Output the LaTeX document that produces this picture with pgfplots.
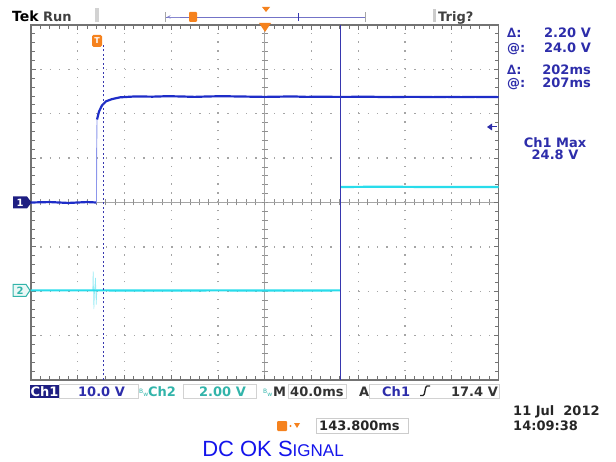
\documentclass[border=0pt]{standalone}
\usepackage{pgfplots}
\pgfplotsset{compat=1.18}
\usepackage{fontspec}
\setmainfont{DejaVu Sans}
\newfontfamily\arialf{Liberation Sans}
\definecolor{chone}{RGB}{30,45,200}
\definecolor{chonelight}{RGB}{140,150,235}
\definecolor{chtwo}{RGB}{40,220,235}
\definecolor{chtwolight}{RGB}{150,235,245}
\definecolor{navy}{RGB}{30,30,130}
\definecolor{cur}{RGB}{55,55,175}
\definecolor{txtblue}{RGB}{45,45,170}
\definecolor{teal2}{RGB}{50,180,170}
\definecolor{tekorange}{RGB}{245,130,30}
\definecolor{framegray}{RGB}{115,115,115}
\definecolor{gridgray}{RGB}{165,165,165}
\definecolor{titleblue}{RGB}{20,20,235}
\newcommand\scf{\fontsize{13}{14}\selectfont\bfseries}
\newcommand\bw{{\fontsize{6}{6}\selectfont\raisebox{2.5pt}{B}w}}

\pgfplotstableread{
x y
0 0
0.4 0.01
0.8 -0.01
1.2 0.01
1.40 0
}\chonelow
\pgfplotstableread{
x y
1.412 1.87
1.455 2.05
1.519 2.19
1.604 2.28
1.733 2.33
1.904 2.37
2.225 2.39
2.6 2.385
2.9 2.395
3.2 2.39
3.5 2.38
3.8 2.39
4.1 2.395
4.4 2.39
4.7 2.385
5.0 2.38
5.3 2.385
5.6 2.39
5.9 2.38
6.2 2.385
6.5 2.38
6.8 2.38
7.1 2.385
7.4 2.38
7.7 2.375
8.0 2.38
8.3 2.38
8.6 2.375
8.9 2.38
9.2 2.375
9.5 2.38
10 2.375
}\chonehigh
\pgfplotstableread{
x y
0 -1.98
1.3 -1.98
1.5 -1.98
2.5 -1.985
4.0 -1.98
5.5 -1.985
6.63 -1.98
}\chtwolow
\pgfplotstableread{
x y
6.63 0.35
7.5 0.355
8.5 0.35
10 0.35
}\chtwohigh

\begin{document}
\begin{tikzpicture}[x=1pt,y=1pt]
\useasboundingbox (0,0) rectangle (616,461);
% centre graticule lines with ticks
\draw[gridgray, line width=0.6pt] (31,258.5) -- (498.5,258.5);
\draw[gridgray, line width=0.6pt] (264.75,81) -- (264.75,436);
\foreach \i in {1,...,49} \draw[framegray!80, line width=0.8pt] ({31+9.35*\i},255.5) -- ({31+9.35*\i},261.5);
\foreach \j in {1,...,39} \draw[framegray!80, line width=0.8pt] (261.75,{81+8.875*\j}) -- (267.75,{81+8.875*\j});

\begin{axis}[
  at={(31pt,81pt)}, anchor=south west, scale only axis,
  width=467.5pt, height=355pt,
  xmin=0, xmax=10, ymin=-4, ymax=4,
  xtick={0,...,10}, ytick={-4,...,4},
  minor x tick num=4, minor y tick num=4,
  xticklabels={,,}, yticklabels={,,},
  tick align=inside, major tick length=5pt, minor tick length=3.5pt,
  every tick/.style={framegray, line width=0.8pt},
  axis line style={framegray, line width=1.6pt},
  grid=major,
  major x grid style={gridgray, line width=1.3pt, dash pattern=on 1.3pt off 7.575pt},
  major y grid style={gridgray, line width=1.3pt, dash pattern=on 1.3pt off 8.05pt},
]
% Ch2
\addplot[chtwolight, line width=0.6pt] coordinates {(1.32,-1.98)(1.33,-1.55)(1.345,-2.4)(1.36,-1.98)(1.38,-1.7)(1.395,-2.3)(1.41,-1.98)};
\addplot[chtwo, line width=2.2pt] table {\chtwolow};
\addplot[chtwo, line width=2.2pt] table {\chtwohigh};
% Ch1
\addplot[chone, line width=2.2pt] table {\chonelow};
\addplot[chonelight, line width=0.9pt] coordinates {(1.40,0)(1.405,1.2)(1.412,1.87)};
\addplot[chone, line width=2.2pt] table {\chonehigh};
% cursors
\addplot[cur, line width=1.1pt, dash pattern=on 2pt off 2.5pt] coordinates {(1.56,-4)(1.56,3.55)};
\addplot[cur, line width=1pt] coordinates {(6.63,-4)(6.63,4)};
\end{axis}

% orange trigger markers
\fill[tekorange] (259,438) -- (271,438) -- (265,429) -- cycle;
\fill[tekorange, rounded corners=1.5pt] (92,414) rectangle (102,426);
\node[white, inner sep=0, font=\fontsize{8}{8}\selectfont\bfseries] at (97,420) {T};

% top bar
\node[anchor=base west, inner sep=0] at (12,439) {\fontsize{14}{14}\selectfont\bfseries Tek};
\node[anchor=base west, inner sep=0, black!75] at (43,439) {\fontsize{13}{13}\selectfont\bfseries Run};
\fill[gray!35] (95,439) rectangle (99,453);
\draw[cur!70, line width=0.8pt] (165,444) -- (365,444);
\draw[gray!70, line width=0.9pt] (165,439) -- (165,449);
\draw[gray!70, line width=0.9pt] (365,439) -- (365,449);
\draw[cur!60, line width=0.6pt, -stealth] (180,444) -- (167,444);
\fill[tekorange, rounded corners=1pt] (189,439) rectangle (197,449);
\draw[cur, line width=1pt] (298,440) -- (298,448);
\fill[tekorange] (262,454) -- (270,454) -- (266,449) -- cycle;
\fill[gray!40] (433,439) rectangle (436,452);
\node[anchor=base west, inner sep=0, black!75] at (438,439) {\fontsize{13}{13}\selectfont\bfseries Trig?};

% channel ground markers
\fill[navy] (13,252.5) -- (27,252.5) -- (31.5,258.5) -- (27,264.5) -- (13,264.5) -- cycle;
\node[white, inner sep=0, font=\fontsize{10}{10}\selectfont\bfseries] at (20,258.5) {1};
\filldraw[fill=teal2!10, draw=teal2, line width=1pt] (13,164.6) -- (26,164.6) -- (30,170.6) -- (26,176.6) -- (13,176.6) -- cycle;
\node[teal2, inner sep=0, font=\fontsize{10}{10}\selectfont\bfseries] at (20,170.6) {2};

% trigger level arrow
\fill[txtblue] (487,334) -- (492,337.5) -- (492,330.5) -- cycle;
\draw[txtblue, line width=1pt] (491,334) -- (497,334);

% right readouts
\begin{scope}[txtblue]
\node[anchor=base west, inner sep=0] at (507,423) {\scf ∆:};
\node[anchor=base east, inner sep=0] at (591,423) {\scf 2.20 V};
\node[anchor=base west, inner sep=0] at (507,408) {\scf @:};
\node[anchor=base east, inner sep=0] at (591,408) {\scf 24.0 V};
\node[anchor=base west, inner sep=0] at (507,386) {\scf ∆:};
\node[anchor=base east, inner sep=0] at (591,386) {\scf 202ms};
\node[anchor=base west, inner sep=0] at (507,373) {\scf @:};
\node[anchor=base east, inner sep=0] at (591,373) {\scf 207ms};
\node[anchor=base, inner sep=0] at (555,313) {\scf Ch1 Max};
\node[anchor=base, inner sep=0] at (555,301) {\scf 24.8 V};
\end{scope}

% bottom readout row
\draw[gray!35, line width=0.8pt] (59,63) rectangle (138,77);
\draw[gray!35, line width=0.8pt] (183,63) rectangle (256,77);
\draw[gray!35, line width=0.8pt] (288,63) rectangle (346,77);
\draw[gray!35, line width=0.8pt] (369,63) rectangle (499,77);
\fill[navy] (30,63) rectangle (59,76);
\node[white, inner sep=0, anchor=base] at (44.5,65) {\scf Ch1};
\node[txtblue, anchor=base west, inner sep=0] at (78,65) {\scf 10.0 V};
\node[teal2, anchor=base west, inner sep=0] at (139,65) {\bw};
\node[teal2, anchor=base west, inner sep=0] at (148,65) {\scf Ch2};
\node[teal2, anchor=base west, inner sep=0] at (199,65) {\scf 2.00 V};
\node[teal2, anchor=base west, inner sep=0] at (263,65) {\bw};
\node[black!80, anchor=base west, inner sep=0] at (273,65) {\scf M};
\node[black!80, anchor=base west, inner sep=0] at (290,65) {\scf 40.0ms};
\node[black!80, anchor=base west, inner sep=0] at (359,65) {\scf A};
\node[txtblue, anchor=base west, inner sep=0] at (382,65) {\scf Ch1};
\draw[black!85, line width=1.3pt] (420,65.5) -- (423,65.5) .. controls (425.5,65.5) and (424.5,75) .. (427,75) -- (430,75);
\node[black!80, anchor=base east, inner sep=0] at (498,65) {\scf 17.4 V};

% horizontal position readout
\fill[tekorange, rounded corners=1pt] (277,30) rectangle (287,40);
\fill[tekorange] (290.5,35) circle (1.2pt);
\fill[tekorange] (294,38) -- (300,38) -- (297,33) -- cycle;
\draw[gray!40, line width=0.8pt] (316,28) rectangle (408,43);
\node[black!85, anchor=base west, inner sep=0] at (319,31) {\scf 143.800ms};

% date
\node[black!85, anchor=base west, inner sep=0] at (513,46) {\scf 11 Jul\ \ 2012};
\node[black!85, anchor=base west, inner sep=0] at (513,31) {\scf 14:09:38};

% caption
\node[titleblue, anchor=base, inner sep=0] at (273,5) {\arialf\fontsize{22}{22}\selectfont DC OK S{\fontsize{17}{17}\selectfont IGNAL}};
\end{tikzpicture}
\end{document}
